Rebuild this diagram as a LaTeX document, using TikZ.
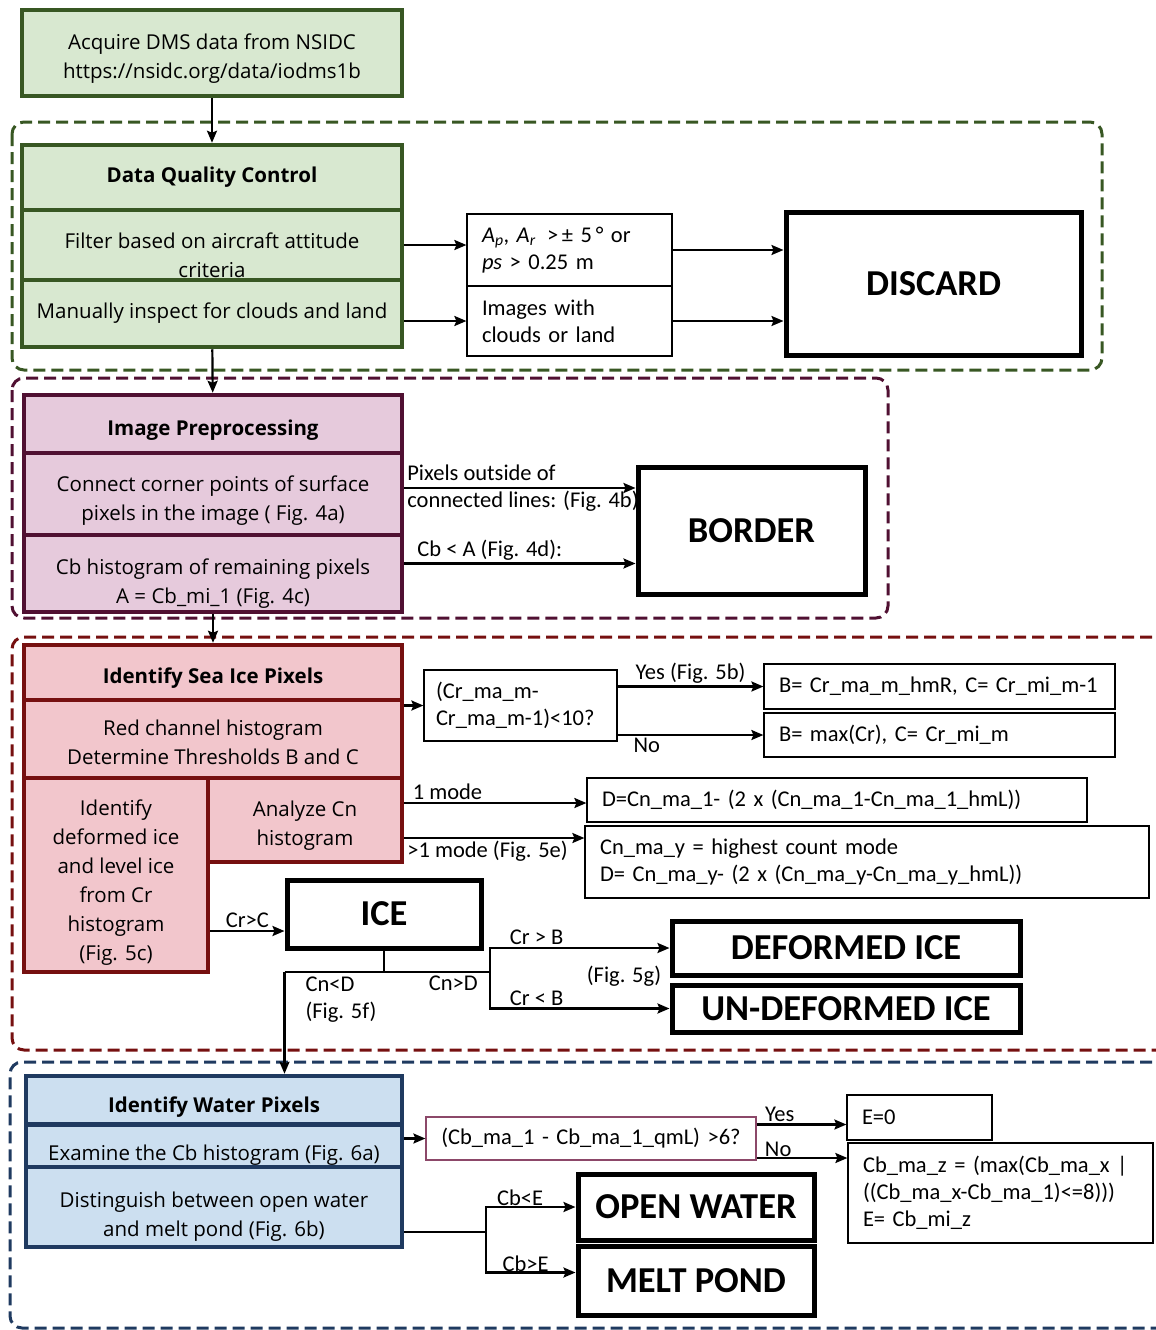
\documentclass[tikz,border=0pt]{standalone}
\usepackage{fontspec}
\setmainfont{Open Sans}
\newfontfamily\calfont{Carlito}
\usepackage{tikz}
\usetikzlibrary{arrows.meta}

\definecolor{dqcfill}{RGB}{216,232,208}
\definecolor{dqcline}{RGB}{56,87,35}
\definecolor{prefill}{RGB}{230,202,220}
\definecolor{preline}{RGB}{80,16,50}
\definecolor{seafill}{RGB}{242,198,204}
\definecolor{sealine}{RGB}{118,16,16}
\definecolor{watfill}{RGB}{204,223,240}
\definecolor{watline}{RGB}{31,58,96}
\definecolor{qline}{RGB}{140,72,105}

\newcommand{\stacktext}{\fontsize{20.5}{29}\selectfont}
\newcommand{\labeltext}{\calfont\fontsize{22.5}{27}\selectfont}
\newcommand{\resulttext}{\calfont\bfseries\fontsize{36.5}{40}\selectfont}

\begin{document}
\begin{tikzpicture}[
    x=1pt, y=-1pt,
    stack/.style={rectangle, line width=4.5pt, align=center, font=\stacktext, inner sep=2pt},
    gstack/.style={stack, draw=dqcline, fill=dqcfill},
    pstack/.style={stack, draw=preline, fill=prefill},
    rstack/.style={stack, draw=sealine, fill=seafill},
    bstack/.style={stack, draw=watline, fill=watfill},
    note/.style={draw, rectangle, line width=1.2pt, align=left, font=\labeltext, inner xsep=15pt, inner ysep=2pt},
    result/.style={draw, rectangle, line width=5pt, font=\resulttext},
    lbl/.style={font=\labeltext, inner sep=2pt},
    grpbox/.style={line width=3pt, dash pattern=on 12pt off 6pt, rounded corners=12pt},
    line/.style={line width=2.2pt},
    arrow/.style={line, -{Stealth[length=12pt, width=10pt, inset=2pt]}},
]
\useasboundingbox (0,0) rectangle (1156,1330);

% Group frames
\draw[grpbox, draw=dqcline] (12,122) rectangle (1102,370);
\draw[grpbox, draw=preline] (12,378) rectangle (888,618);
\draw[grpbox, draw=sealine] (1170,637) -- (12,637) -- (12,1050) -- (1170,1050);
\draw[grpbox, draw=watline] (1170,1062) -- (10,1062) -- (10,1328) -- (1170,1328);

% Acquire data
\node[gstack, minimum width=380, minimum height=86, text height=55] (acq) at (212,53) {Acquire DMS data from NSIDC\\https://nsidc.org/data/iodms1b};

% Data quality control
\node[gstack, minimum width=380, minimum height=65] (dqc) at (212,177.5) {\textbf{Data Quality Control}};
\node[gstack, minimum width=380, minimum height=70, text height=65] (filt) at (212,245) {Filter based on aircraft attitude\\criteria};
\node[gstack, minimum width=380, minimum height=67] (man) at (212,313.5) {Manually inspect for clouds and land};

% Criteria
\node[note, text width=175, minimum height=72] (crit1) at (569.5,250) {\textit{A}\textsubscript{\textit{p}}, \textit{A}\textsubscript{\textit{r}} \,>\,± 5\,° or\\\textit{ps} > 0.25 m};
\node[note, text width=175, minimum height=70] (crit2) at (569.5,321) {Images with\\clouds or land};

% Discard
\node[result, minimum width=295, minimum height=143] (disc) at (933.5,283.5) {DISCARD};

% Image preprocessing
\node[pstack, minimum width=378, minimum height=58, text height=27] (pre) at (213,424) {\textbf{Image Preprocessing}};
\node[pstack, minimum width=378, minimum height=82, text height=57] (conn) at (213,494) {Connect corner points of surface\\pixels in the image ( Fig. 4a)};
\node[pstack, minimum width=378, minimum height=77, text height=65] (cbh) at (213,573.5) {Cb histogram of remaining pixels\\A = Cb\_mi\_1 (Fig. 4c)};

% Border
\node[result, minimum width=227, minimum height=127] (bord) at (751.5,530.5) {BORDER};

% Sea ice pixels
\node[rstack, minimum width=378, minimum height=55, text height=27] (sea) at (213,672.5) {\textbf{Identify Sea Ice Pixels}};
\node[rstack, minimum width=378, minimum height=78, text height=51] (red) at (213,739) {Red channel histogram\\Determine Thresholds B and C};
\node[rstack, minimum width=184, minimum height=194, text height=176] (idf) at (116,875) {Identify\\deformed ice\\and level ice\\from Cr\\histogram\\(Fig. 5c)};
\node[rstack, minimum width=194, minimum height=84, text height=55] (anc) at (305,820) {Analyze Cn\\histogram};

% Thresholds B and C
\node[note, inner xsep=12pt, text width=169, minimum height=71] (q1) at (520.5,705.5) {(Cr\_ma\_m-\\Cr\_ma\_m-1)<10?};
\node[note, text width=321, minimum height=45] (b1) at (939.5,686.5) {B= Cr\_ma\_m\_hmR, C= Cr\_mi\_m-1};
\node[note, text width=321, minimum height=44] (b2) at (939.5,735) {B= max(Cr), C= Cr\_mi\_m};

% Threshold D
\node[note, text width=470, minimum height=44] (d1) at (837,800) {D=Cn\_ma\_1- (2 x (Cn\_ma\_1-Cn\_ma\_1\_hmL))};
\node[note, text width=534, minimum height=72] (d2) at (867,862) {Cn\_ma\_y = highest count mode\\D= Cn\_ma\_y- (2 x (Cn\_ma\_y-Cn\_ma\_y\_hmL))};

% Ice classes
\node[result, minimum width=194, minimum height=68] (ice) at (384,914) {ICE};
\node[result, minimum width=348, minimum height=54] (def) at (846,948) {DEFORMED ICE};
\node[result, minimum width=348, minimum height=47] (und) at (846,1008.5) {UN-DEFORMED ICE};
\node[lbl] (fig5g) at (624,976) {(Fig. 5g)};

% Water pixels
\node[bstack, minimum width=376, minimum height=49, text height=29] (wat) at (214,1100.5) {\textbf{Identify Water Pixels}};
\node[bstack, minimum width=376, minimum height=42, text height=34] (exa) at (214,1146) {Examine the Cb histogram (Fig. 6a)};
\node[bstack, minimum width=376, minimum height=80, text height=63] (dis) at (214,1207) {Distinguish between open water\\and melt pond (Fig. 6b)};

% Threshold E
\node[note, draw=qline, align=center, inner xsep=10pt, text width=310, minimum height=43] (q2) at (591,1138.5) {(Cb\_ma\_1 - Cb\_ma\_1\_qmL) >6?};
\node[note, text width=115, minimum height=45] (e0) at (919.5,1117.5) {E=0};
\node[note, text width=275, minimum height=100] (cbz) at (1000.5,1193) {Cb\_ma\_z = (max(Cb\_ma\_x |\\((Cb\_ma\_x-Cb\_ma\_1)<=8)))\\E= Cb\_mi\_z};

% Water classes
\node[result, minimum width=236, minimum height=66] (ow) at (696,1207) {OPEN WATER};
\node[result, minimum width=236, minimum height=69] (mp) at (696,1280.5) {MELT POND};

% Arrows
\draw[arrow] (acq) -- (dqc);
\draw[arrow] (filt) -- (filt -| crit1.west);
\draw[arrow] (crit2 -| man.east) -- (crit2);
\draw[arrow] (crit1.east) -- (crit1.east -| disc.west);
\draw[arrow] (crit2.east) -- (crit2.east -| disc.west);
\draw[arrow] (man) -- (pre);

\draw[arrow] ([yshift=6]conn.east) -- ([yshift=6]conn.east -| bord.west)
    node[lbl, pos=0, anchor=west, align=left] {Pixels outside of\\connected lines: (Fig. 4b)};
\draw[arrow] ([yshift=10]cbh.east) -- ([yshift=10]cbh.east -| bord.west)
    node[lbl, pos=0.37, above] {Cb < A (Fig. 4d):};
\draw[arrow] (cbh) -- (sea);

\draw[arrow] (q1 -| red.east) -- (q1);
\draw[arrow] (q1.east |- b1) -- (b1) node[lbl, midway, above] {Yes (Fig. 5b)};
\draw[arrow] (q1.east |- b2) -- (b2) node[lbl, pos=0.2, below] {No};
\draw[arrow] ([yshift=17]anc.east) -- ([yshift=17]anc.east -| d1.west)
    node[lbl, pos=0.03, anchor=south west] {1 mode};
\draw[arrow] ([yshift=-18]anc.east) -- ([yshift=-18]anc.east -| d2.west)
    node[lbl, pos=0, anchor=north west] {>1 mode (Fig. 5e)};

\draw[arrow] ([yshift=-17]ice.west -| idf.east) -- ([yshift=-17]ice.west)
    node[lbl, midway, above] {Cr>C};
\draw[line] (ice) -- ++(0,58) coordinate (icej);
\draw[line] (icej -| ice.west) -- (icej) -- ++(106,0) coordinate (cnd);
\draw[arrow] (cnd) |- (def) node[lbl, pos=0.63, above] {Cr > B};
\draw[arrow] (cnd) |- (und) node[lbl, pos=0.63, above] {Cr < B};
\node[lbl, anchor=north east] (cngt) at ([xshift=-10,yshift=-2]cnd) {Cn>D};
\draw[arrow] (icej -| ice.west) -- (ice.west |- wat.north)
    node[lbl, pos=0, anchor=north west, align=left, xshift=18, yshift=-2] {Cn<D\\(Fig. 5f)};

\draw[arrow] (q2 -| exa.east) -- (q2);
\draw[arrow] ([yshift=14]q2.east) -- ([yshift=14]q2.east -| e0.west)
    node[lbl, pos=0.06, anchor=south west] {Yes};
\draw[arrow] ([yshift=-19.5]q2.east) -- ([yshift=-19.5]q2.east -| cbz.west)
    node[lbl, pos=0.08, anchor=south west, inner sep=0pt] {No};
\draw[line] ([yshift=-25]dis.east) -- ++(82,0) coordinate (dsp);
\draw[arrow] (dsp) |- (ow) node[lbl, pos=0.69, above, inner sep=0pt] {Cb<E};
\draw[arrow] (dsp) |- ([yshift=8]mp.west) node[lbl, pos=0.72, above, inner sep=0pt] {Cb>E};

\end{tikzpicture}
\end{document}
